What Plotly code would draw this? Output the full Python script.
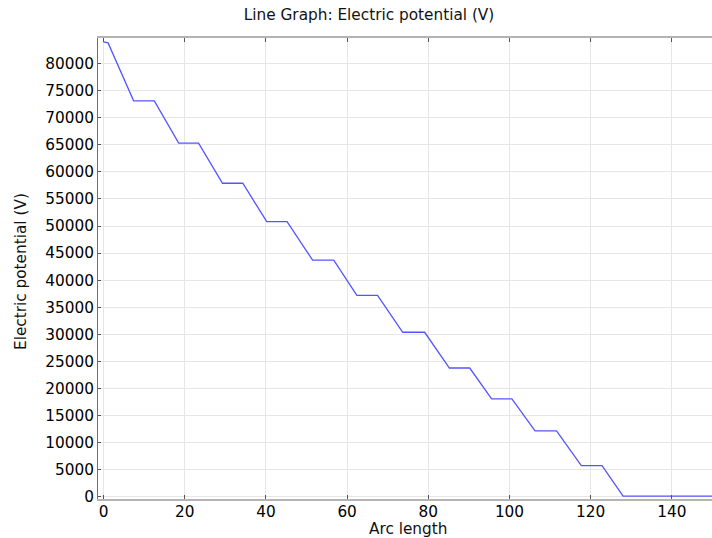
import plotly.graph_objects as go

# Arc length vertices and electric potential (V)
arc_length = [0, 1.1, 7.4, 12.5, 18.5, 23.4, 29.3, 34.3, 40.2, 45.2, 51.5, 56.7,
              62.4, 67.5, 73.7, 79.1, 85.2, 90.2, 95.6, 100.6, 106.3, 111.6,
              117.7, 122.8, 128.0, 150]
potential = [84000, 83800, 73100, 73100, 65300, 65300, 57900, 57900, 50800, 50800,
             43700, 43700, 37200, 37200, 30400, 30400, 23800, 23800, 18100, 18100,
             12200, 12200, 5800, 5800, 150, 150]

x_ticks = [0, 20, 40, 60, 80, 100, 120, 140]
y_ticks = list(range(0, 80001, 5000))

font_family = "DejaVu Sans"
fs = 15.3

fig = go.Figure()
fig.add_trace(go.Scatter(
    x=arc_length, y=potential, mode="lines",
    line=dict(color="rgb(85,85,255)", width=1.3),
    showlegend=False,
))

fig.update_layout(
    width=712, height=538,
    margin=dict(l=98, r=0, t=38, b=39),
    paper_bgcolor="white", plot_bgcolor="white",
    title=dict(text="Line Graph: Electric potential (V)", x=0.5183, xanchor="center",
               y=0.9721, yanchor="middle",
               font=dict(family=font_family, size=fs, color="#111111")),
    font=dict(family=font_family, size=fs, color="black"),
    annotations=[
        dict(text="Arc length", xref="paper", yref="paper", x=0.505, y=-0.066,
             xanchor="center", yanchor="middle", showarrow=False,
             font=dict(family=font_family, size=fs, color="#111111")),
        dict(text="Electric potential (V)", xref="paper", yref="paper", x=-0.1246, y=0.4935,
             xanchor="center", yanchor="middle", showarrow=False, textangle=-90,
             font=dict(family=font_family, size=fs, color="#111111")),
    ],
)

fig.update_xaxes(
    range=[-1.38, 149.9], tickvals=x_ticks, ticktext=[str(v) for v in x_ticks],
    showgrid=True, gridcolor="#e6e6e6", gridwidth=1, zeroline=False,
    showline=True, linecolor="#b4b4b4", linewidth=2, mirror="ticks",
    ticks="inside", ticklen=4, tickcolor="#555555", tickwidth=1,
    ticklabelstandoff=-2,
    tickfont=dict(family=font_family, size=fs, color="black"),
)
fig.update_yaxes(
    range=[-370, 84700], tickvals=y_ticks, ticktext=[str(v) for v in y_ticks],
    showgrid=True, gridcolor="#e6e6e6", gridwidth=1, zeroline=False,
    showline=True, linecolor="#707070", linewidth=1,
    ticks="inside", ticklen=3, tickcolor="#555555", tickwidth=1,
    tickfont=dict(family=font_family, size=fs, color="black"),
)

fig.write_html("out.html", config={"displayModeBar": False},
               post_script="document.body.style.margin='0';document.body.style.overflow='hidden';")
